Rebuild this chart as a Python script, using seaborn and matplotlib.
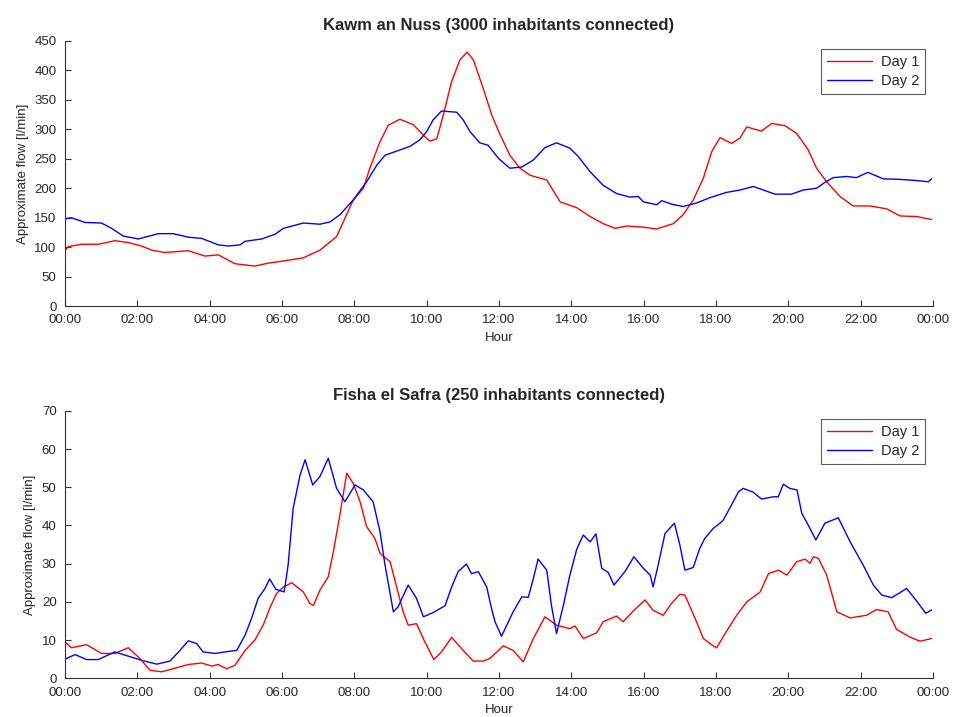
import numpy as np
import pandas as pd
import matplotlib
matplotlib.use("Agg")
import matplotlib.pyplot as plt
import seaborn as sns

# --- data (hour of day, flow in l/min) ---
nuss_day1_h = [0, 0.09, 0.46, 0.92, 1.38, 1.75, 2.12, 2.40, 2.76, 3.41, 3.87, 4.24, 4.70, 5.25, 5.62,
               6.08, 6.59, 7.05, 7.51, 7.97, 8.25, 8.43, 8.71, 8.94, 9.26, 9.63, 9.91, 10.09, 10.28,
               10.46, 10.69, 10.92, 11.12, 11.29, 11.56, 11.80, 12.03, 12.30, 12.58, 12.86, 13.32,
               13.69, 14.15, 14.52, 14.88, 15.21, 15.53, 15.99, 16.36, 16.82, 17.09, 17.37, 17.65,
               17.88, 18.11, 18.43, 18.66, 18.85, 19.26, 19.54, 19.91, 20.23, 20.55, 20.78, 21.06,
               21.43, 21.79, 22.26, 22.72, 23.09, 23.55, 23.96]
nuss_day1 = [94, 101, 105, 105, 111, 108, 102, 95, 91, 94, 85, 87, 72, 68, 73,
             77, 82, 95, 118, 180, 200, 234, 279, 307, 317, 308, 290, 280, 284,
             324, 381, 418, 431, 418, 370, 324, 291, 256, 234, 222, 214,
             177, 167, 152, 140, 132, 136, 134, 131, 140, 155, 180, 217,
             262, 286, 276, 285, 304, 297, 310, 306, 293, 265, 234, 211,
             186, 170, 170, 165, 153, 152, 147]

nuss_day2_h = [0, 0.18, 0.55, 1.01, 1.29, 1.61, 2.03, 2.58, 2.99, 3.41, 3.78, 4.24, 4.52, 4.84, 4.98,
               5.44, 5.81, 6.04, 6.59, 7.05, 7.33, 7.60, 7.97, 8.34, 8.62, 8.85, 9.17, 9.54, 9.81,
               10.0, 10.18, 10.41, 10.83, 11.01, 11.20, 11.47, 11.70, 11.98, 12.30, 12.63, 12.95,
               13.27, 13.59, 13.96, 14.19, 14.52, 14.88, 15.25, 15.62, 15.85, 15.99, 16.36, 16.50,
               16.77, 17.09, 17.46, 17.83, 18.29, 18.66, 19.03, 19.31, 19.63, 20.09, 20.41, 20.78,
               21.01, 21.24, 21.61, 21.88, 22.20, 22.62, 23.09, 23.55, 23.87, 23.96]
nuss_day2 = [148, 150, 142, 141, 132, 119, 114, 123, 123, 117, 115, 104, 102, 104, 110,
             114, 122, 132, 141, 139, 143, 155, 180, 211, 239, 256, 263, 271, 282,
             296, 316, 331, 329, 316, 296, 277, 273, 251, 234, 236, 248,
             269, 277, 268, 254, 228, 205, 191, 185, 186, 177, 172, 179,
             173, 169, 175, 184, 193, 197, 203, 197, 190, 190, 197, 200,
             210, 218, 220, 218, 227, 216, 215, 213, 211, 216]

safra_day1_h = [0, 0.18, 0.60, 1.01, 1.38, 1.75, 2.07, 2.35, 2.67, 2.99, 3.41, 3.78, 4.06, 4.24, 4.47,
                4.70, 4.98, 5.25, 5.48, 5.67, 5.85, 6.04, 6.27, 6.59, 6.77, 6.87, 7.05, 7.28, 7.42,
                7.60, 7.79, 7.97, 8.16, 8.34, 8.57, 8.71, 8.99, 9.17, 9.35, 9.49, 9.72, 9.95, 10.20,
                10.41, 10.69, 11.01, 11.29, 11.56, 11.75, 12.12, 12.39, 12.67, 12.95, 13.27, 13.59,
                13.96, 14.10, 14.33, 14.70, 14.88, 15.25, 15.43, 15.71, 16.04, 16.26, 16.54, 16.77,
                17.00, 17.14, 17.46, 17.65, 17.92, 18.02, 18.25, 18.57, 18.85, 19.22, 19.45, 19.73,
                19.96, 20.23, 20.46, 20.60, 20.69, 20.83, 21.06, 21.34, 21.71, 22.16, 22.44, 22.76,
                22.99, 23.36, 23.64, 23.96]
safra_day1 = [9.5, 8.0, 8.8, 6.5, 6.5, 8.0, 5.2, 2.1, 1.7, 2.5, 3.6, 4.0, 3.2, 3.6, 2.5,
              3.4, 7.3, 10.0, 13.9, 18.5, 22.2, 23.9, 25.0, 22.6, 19.6, 19.1, 23.1, 26.6, 33.1,
              42.7, 53.7, 51.0, 46.2, 39.7, 36.6, 32.7, 30.5, 23.9, 17.4, 13.9, 14.3, 9.5, 4.9,
              6.9, 10.7, 7.3, 4.5, 4.5, 5.2, 8.5, 7.3, 4.3, 10.4, 16.1, 13.9,
              13.0, 13.7, 10.4, 11.9, 14.8, 16.3, 14.8, 17.6, 20.5, 17.8, 16.5, 19.6,
              22.0, 21.8, 14.8, 10.4, 8.5, 8.0, 11.7, 16.5, 20.0, 22.6, 27.4, 28.3,
              27.0, 30.5, 31.2, 30.1, 31.8, 31.4, 27.0, 17.4, 15.8, 16.5, 18.0, 17.4,
              12.8, 10.8, 9.7, 10.4]

safra_day2_h = [0, 0.28, 0.60, 0.92, 1.38, 1.75, 2.12, 2.54, 2.90, 3.18, 3.41, 3.64, 3.82, 4.15, 4.42,
                4.75, 4.98, 5.16, 5.34, 5.53, 5.66, 5.83, 6.06, 6.17, 6.31, 6.50, 6.64, 6.85, 7.05,
                7.28, 7.51, 7.74, 8.02, 8.25, 8.52, 8.71, 8.85, 9.08, 9.21, 9.49, 9.72, 9.91, 10.18,
                10.51, 10.69, 10.87, 11.10, 11.24, 11.43, 11.66, 11.80, 11.89, 12.07, 12.39, 12.63,
                12.81, 12.95, 13.08, 13.32, 13.45, 13.59, 13.78, 13.96, 14.15, 14.33, 14.52, 14.68,
                14.84, 15.02, 15.18, 15.48, 15.73, 15.99, 16.18, 16.26, 16.40, 16.59, 16.85, 17.00,
                17.14, 17.37, 17.55, 17.69, 17.92, 18.11, 18.20, 18.43, 18.62, 18.75, 19.03, 19.26,
                19.58, 19.72, 19.86, 20.04, 20.24, 20.37, 20.60, 20.76, 21.01, 21.38, 21.71, 22.07,
                22.35, 22.58, 22.86, 23.27, 23.55, 23.80, 23.96]
safra_day2 = [5.0, 6.2, 4.9, 4.9, 6.9, 5.8, 4.7, 3.7, 4.5, 7.3, 9.8, 9.1, 6.9, 6.5, 6.9,
              7.3, 11.3, 15.7, 20.9, 23.5, 26.0, 23.3, 22.6, 29.6, 44.5, 53.2, 57.2, 50.6, 52.8,
              57.6, 49.7, 46.2, 50.6, 49.3, 46.2, 38.4, 29.6, 17.4, 18.7, 24.4, 20.9, 16.1, 17.2,
              19.0, 23.9, 27.9, 29.9, 27.4, 27.9, 23.9, 18.0, 14.8, 11.0, 17.4, 21.3,
              21.2, 26.1, 31.2, 28.3, 19.1, 11.7, 19.1, 27.0, 33.8, 37.5, 35.7, 37.8,
              28.8, 27.7, 24.4, 27.9, 31.8, 28.8, 27.0, 23.9, 29.6, 37.9, 40.6, 34.9,
              28.3, 29.0, 34.0, 36.6, 39.2, 40.6, 41.4, 45.4, 48.8, 49.7, 48.7, 46.9,
              47.5, 47.5, 50.8, 49.7, 49.3, 43.2, 39.2, 36.2, 40.6, 42.0, 35.7, 29.6,
              24.4, 21.8, 21.1, 23.5, 20.2, 17.0, 17.9]

hour_ticks = list(range(0, 25, 2))
hour_labels = [f"{h % 24:02d}:00" for h in hour_ticks]


def long_frame(pairs):
    parts = []
    for name, h, v in pairs:
        parts.append(pd.DataFrame({"hour": h, "flow": v, "day": name}))
    return pd.concat(parts, ignore_index=True)


nuss = long_frame([("Day 1", nuss_day1_h, nuss_day1), ("Day 2", nuss_day2_h, nuss_day2)])
safra = long_frame([("Day 1", safra_day1_h, safra_day1), ("Day 2", safra_day2_h, safra_day2)])

sns.set_style("ticks")
plt.rcParams["font.family"] = ["Liberation Sans", "DejaVu Sans"]
plt.rcParams["xtick.direction"] = "in"
plt.rcParams["ytick.direction"] = "in"

fig = plt.figure(figsize=(9.55, 7.17), dpi=100)
ax1 = fig.add_axes([0.068, 0.573, 0.909, 0.370])
ax2 = fig.add_axes([0.068, 0.054, 0.909, 0.373])

palette = {"Day 1": "#ff0000", "Day 2": "#0000ff"}

panels = [
    (ax1, nuss, "Kawm an Nuss (3000 inhabitants connected)", 450, 50),
    (ax2, safra, "Fisha el Safra (250 inhabitants connected)", 70, 10),
]

for ax, df, title, ymax, ystep in panels:
    sns.lineplot(data=df, x="hour", y="flow", hue="day", palette=palette,
                 estimator=None, sort=False, linewidth=1.0, ax=ax)
    ax.set_xlim(0, 24)
    ax.set_ylim(0, ymax)
    ax.set_xticks(hour_ticks)
    ax.set_xticklabels(hour_labels)
    ax.set_yticks(np.arange(0, ymax + 1, ystep))
    ax.tick_params(labelsize=9.5, length=4, width=0.8, color="#333333", pad=6)
    ax.set_title(title, fontsize=12, fontweight="bold", pad=8)
    ax.set_xlabel("Hour", fontsize=9.5, labelpad=4)
    ax.set_ylabel("Approximate flow [l/min]", fontsize=9.5, labelpad=4)
    for s in ["top", "right"]:
        ax.spines[s].set_visible(False)
    for s in ["left", "bottom"]:
        ax.spines[s].set_color("#333333")
        ax.spines[s].set_linewidth(0.8)
    leg = ax.legend(loc="upper right", fontsize=10.5, handlelength=3.1,
                    fancybox=False, frameon=True, borderaxespad=0.55,
                    labelspacing=0.35, handletextpad=0.6, borderpad=0.4)
    leg.get_frame().set_edgecolor("#333333")
    leg.get_frame().set_linewidth(0.8)

fig.savefig("out.png", dpi=100)
